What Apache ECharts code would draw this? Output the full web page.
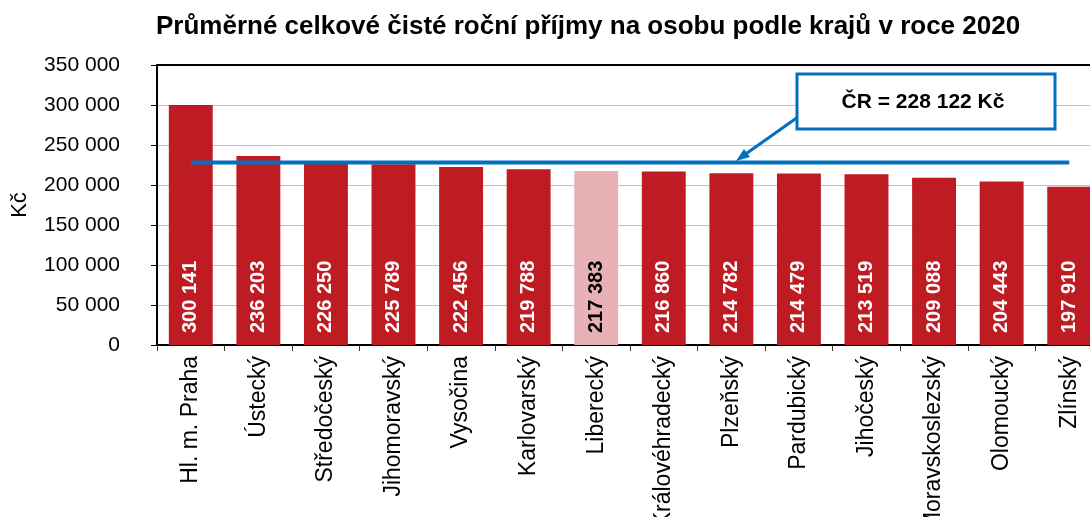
<!DOCTYPE html>
<html>
<head>
<meta charset="utf-8">
<script src="https://cdn.jsdelivr.net/npm/echarts@6/dist/echarts.min.js"></script>
<style>
	html, body { margin: 0; padding: 0; background: #fff; }
	#chart { width: 1090px; height: 517px; }
</style>
</head>
<body>
<div id="chart"></div>
<script>
// kraje a prijmy (Kč)
const regions = ['Hl. m. Praha', 'Ústecký', 'Středočeský', 'Jihomoravský', 'Vysočina', 'Karlovarský', 'Liberecký',
	'Královéhradecký', 'Plzeňský', 'Pardubický', 'Jihočeský', 'Moravskoslezský', 'Olomoucký', 'Zlínský'];
const incomes = [300141, 236203, 226250, 225789, 222456, 219788, 217383, 216860, 214782, 214479, 213519, 209088, 204443, 197910];
const crAverage = 228122;
const highlight = 'Liberecký';
const yTicks = [0, 50000, 100000, 150000, 200000, 250000, 300000, 350000];

const font = 'Liberation Sans, Arial, sans-serif';

// mezera jako oddelovac tisicu
function fmt(v) {
	return String(v).replace(/\B(?=(\d{3})+(?!\d))/g, ' ');
}

let chart = echarts.init(document.getElementById('chart'));

let barData = incomes.map((v, i) => {
	let isHl = regions[i] === highlight;
	return {
		value: v,
		itemStyle: { color: isHl ? '#E8B1B5' : '#BE1B23' },
		label: { color: isHl ? '#000' : '#fff' },
	};
});

let option = {
	animation: false,
	textStyle: { fontFamily: font },
	title: {
		text: 'Průměrné celkové čisté roční příjmy na osobu podle krajů v roce 2020',
		left: 151,
		top: 9,
		textStyle: { fontFamily: font, fontSize: 26, fontWeight: 'bold', color: '#000' },
	},
	// plocha grafu presahuje pravy okraj obrazku
	grid: { left: 157, top: 65, width: 946, bottom: 172, containLabel: false, outerBoundsMode: 'none' },
	xAxis: [
		{
			type: 'category',
			data: regions,
			axisLine: { lineStyle: { color: '#000', width: 2 } },
			axisTick: { show: true, length: 6, lineStyle: { color: '#333' } },
			axisLabel: { rotate: 90, fontSize: 23, color: '#000', margin: 11, interval: 0 },
		},
		{
			type: 'category',
			position: 'top',
			data: regions,
			axisLine: { lineStyle: { color: '#000', width: 2 } },
			axisTick: { show: false },
			axisLabel: { show: false },
		},
	],
	yAxis: {
		type: 'value',
		min: yTicks[0],
		max: yTicks[yTicks.length - 1],
		interval: 50000,
		name: 'Kč',
		nameLocation: 'middle',
		nameRotate: 90,
		nameGap: 126,
		nameTextStyle: { fontSize: 22, color: '#000' },
		axisLine: { show: true, lineStyle: { color: '#000', width: 2 } },
		axisTick: { show: true, length: 6, lineStyle: { color: '#000' } },
		axisLabel: { fontSize: 21, color: '#000', margin: 37, formatter: v => fmt(v) },
		splitLine: { lineStyle: { color: '#C0C0C0', width: 1 } },
	},
	series: [
		{
			type: 'bar',
			data: barData,
			barCategoryGap: '35%',
			label: {
				show: true,
				position: 'insideBottom',
				rotate: 90,
				align: 'left',
				verticalAlign: 'middle',
				distance: 12,
				fontSize: 20,
				fontWeight: 'bold',
				formatter: p => fmt(p.value),
			},
		},
		{
			type: 'line',
			data: regions.map(() => crAverage),
			symbol: 'none',
			lineStyle: { color: '#0070C0', width: 4 },
			z: 5,
		},
	],
	graphic: [
		{
			type: 'line',
			shape: { x1: 798, y1: 117, x2: 740, y2: 158 },
			style: { stroke: '#0070C0', lineWidth: 3 },
			z: 10,
		},
		{
			type: 'polygon',
			shape: { points: [[736, 161], [744, 149], [750, 157]] },
			style: { fill: '#0070C0' },
			z: 10,
		},
		{
			type: 'rect',
			shape: { x: 797, y: 74, width: 258, height: 55 },
			style: { fill: '#fff', stroke: '#0070C0', lineWidth: 3 },
			z: 10,
		},
		{
			type: 'text',
			x: 923,
			y: 102,
			style: {
				text: 'ČR = ' + fmt(crAverage) + ' Kč',
				font: 'bold 21px ' + font,
				fill: '#000',
				align: 'center',
				verticalAlign: 'middle',
			},
			z: 11,
		},
	],
};

chart.setOption(option);
</script>
</body>
</html>
